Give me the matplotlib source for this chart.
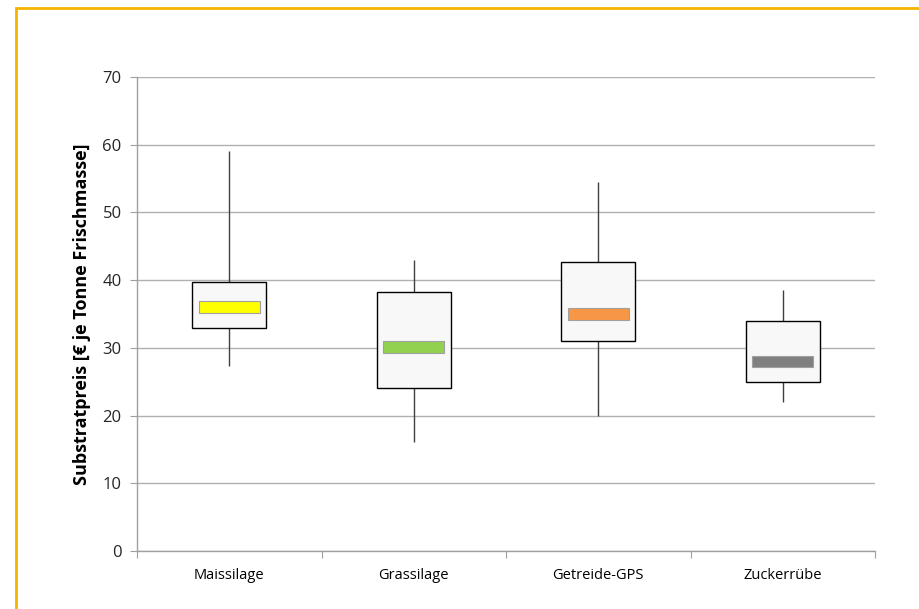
import matplotlib
matplotlib.use("Agg")
import matplotlib.pyplot as plt
from matplotlib.patches import Rectangle
import numpy as np

categories = ["Maissilage", "Grassilage", "Getreide-GPS", "Zuckerrübe"]
whisker_low = [27.3, 16.1, 20.0, 22.0]
q1 = [32.9, 24.1, 31.0, 25.0]
median = [36.0, 30.1, 35.0, 28.0]
q3 = [39.7, 38.2, 42.7, 34.0]
whisker_high = [59.1, 43.0, 54.5, 38.5]
median_colors = ["#ffff00", "#92d050", "#f79646", "#808080"]
yticks = [0, 10, 20, 30, 40, 50, 60, 70]

plt.rcParams['font.family'] = ['Open Sans', 'DejaVu Sans']

fig = plt.figure(figsize=(9.19, 6.09), dpi=100)
W, H = 919, 609
ax = fig.add_axes([137 / W, (H - 551) / H, (875 - 137) / W, (551 - 77) / H])

# orange frame around chart
fig.patches.append(Rectangle((15.5 / W, -0.1), 1.2, (H - 8.0) / H + 0.1,
                             transform=fig.transFigure, fill=False,
                             edgecolor="#f5b400", linewidth=2.0))

x = np.arange(1, len(categories) + 1)
box_w = 0.40
med_w = 0.33
med_h = 1.7

for i, xi in enumerate(x):
    ax.vlines(xi, whisker_low[i], q1[i], color="#404040", lw=1.0, zorder=3)
    ax.vlines(xi, q3[i], whisker_high[i], color="#404040", lw=1.0, zorder=3)
    ax.add_patch(Rectangle((xi - box_w / 2, q1[i]), box_w, q3[i] - q1[i],
                           facecolor="#f8f8f8", edgecolor="#000000", lw=1.0, zorder=3))
    ax.add_patch(Rectangle((xi - med_w / 2, median[i] - med_h / 2), med_w, med_h,
                           facecolor=median_colors[i], edgecolor="#a0a0a0", lw=0.8, zorder=4))

ax.set_xlim(0.5, len(categories) + 0.5)
ax.set_ylim(0, 70)
ax.set_yticks(yticks)
ax.set_yticklabels([str(v) for v in yticks], fontsize=12, color="#262626")
ax.set_xticks(np.arange(0.5, len(categories) + 1, 1.0))
ax.set_xticklabels([])
ax.set_xticks(x, minor=True)
ax.set_xticklabels(categories, minor=True, fontsize=10.5, color="#000000")
ax.tick_params(axis="x", which="minor", length=0, pad=12)
ax.tick_params(axis="x", which="major", length=5, color="#a0a0a0", direction="out")
ax.tick_params(axis="y", length=5, color="#a0a0a0", direction="out", pad=6)

ax.yaxis.grid(True, color="#b0b0b0", lw=1.0)
ax.set_axisbelow(True)
for s in ["top", "right"]:
    ax.spines[s].set_visible(False)
for s in ["left", "bottom"]:
    ax.spines[s].set_color("#a0a0a0")
    ax.spines[s].set_linewidth(1.0)

ax.set_ylabel("Substratpreis [€ je Tonne Frischmasse]", fontsize=13, fontweight="bold",
              labelpad=8)

fig.savefig("out.png", dpi=100)
